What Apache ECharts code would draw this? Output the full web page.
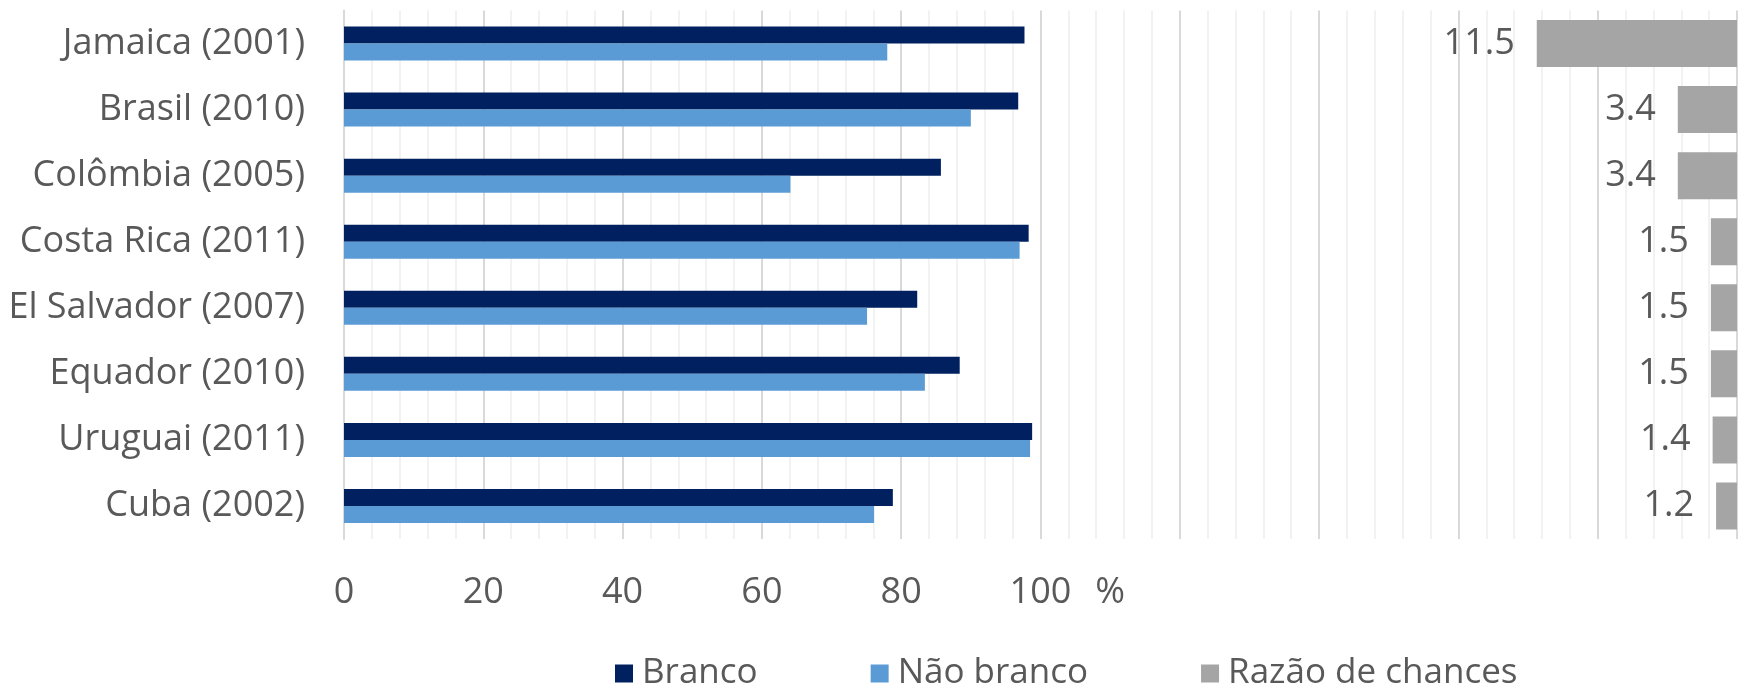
<!DOCTYPE html>
<html>
<head>
<meta charset="utf-8">
<style>
  html, body { margin: 0; padding: 0; background: #ffffff; }
  #chart { width: 1746px; height: 685px; }
</style>
<script src="https://cdn.jsdelivr.net/npm/echarts@6/dist/echarts.min.js"></script>
</head>
<body>
<div id="chart"></div>
<script>
// Country (census year)
const categories = [
  'Jamaica (2001)', 'Brasil (2010)', 'Colômbia (2005)', 'Costa Rica (2011)',
  'El Salvador (2007)', 'Equador (2010)', 'Uruguai (2011)', 'Cuba (2002)'
];
// Percentages (%)
const branco = [97.7, 96.8, 85.7, 98.3, 82.3, 88.4, 98.8, 78.8];
const naoBranco = [78.0, 90.0, 64.1, 97.0, 75.1, 83.4, 98.5, 76.1];
// Odds ratio
const razao = [11.5, 3.4, 3.4, 1.5, 1.5, 1.5, 1.4, 1.2];
// Percentage axis tick labels shown (others left blank)
const pctTicks = [0, 20, 40, 60, 80, 100];
const unitLabel = '%';

const FONT = 'Open Sans';
const TEXT = '#595959';

const chart = echarts.init(document.getElementById('chart'), null, { renderer: 'canvas' });

const option = {
  animation: false,
  backgroundColor: '#ffffff',
  textStyle: { fontFamily: FONT, color: TEXT },
  grid: { left: 344, right: 9, top: 10.5, bottom: 146, containLabel: false },
  legend: {
    left: 610,
    top: 651,
    icon: 'rect',
    itemWidth: 18,
    itemHeight: 18,
    itemGap: 113,
    textStyle: { fontFamily: FONT, fontSize: 35, color: TEXT, padding: [0, 0, 0, 4] },
    data: ['Branco', 'Não branco', 'Razão de chances']
  },
  xAxis: [
    {
      type: 'value',
      min: 0,
      max: 200,
      interval: 20,
      axisLine: { show: false },
      axisTick: { show: false },
      axisLabel: {
        fontFamily: FONT,
        fontSize: 36,
        color: TEXT,
        margin: 36,
        formatter: v => (pctTicks.indexOf(v) >= 0 ? String(v) : '')
      },
      splitLine: { show: true, lineStyle: { color: '#d9d9d9', width: 2 } },
      minorTick: { show: false, splitNumber: 5 },
      minorSplitLine: { show: true, lineStyle: { color: '#f2f2f2', width: 2 } }
    },
    {
      type: 'value',
      min: 0,
      max: 80,
      inverse: true,
      show: false,
      splitLine: { show: false }
    }
  ],
  yAxis: [
    {
      type: 'category',
      inverse: true,
      data: categories,
      axisLine: { show: true, lineStyle: { color: '#d9d9d9', width: 2 } },
      axisTick: { show: false },
      axisLabel: { fontFamily: FONT, fontSize: 36, color: TEXT, margin: 39 },
      splitLine: { show: false }
    },
    {
      type: 'category',
      inverse: true,
      data: categories,
      show: false
    }
  ],
  series: [
    {
      name: 'Branco',
      type: 'bar',
      xAxisIndex: 0,
      yAxisIndex: 0,
      data: branco,
      barWidth: 17,
      barGap: '0%',
      itemStyle: { color: '#002060' }
    },
    {
      name: 'Não branco',
      type: 'bar',
      xAxisIndex: 0,
      yAxisIndex: 0,
      data: naoBranco,
      barWidth: 17,
      barGap: '0%',
      itemStyle: { color: '#5b9bd5' }
    },
    {
      name: 'Razão de chances',
      type: 'bar',
      xAxisIndex: 1,
      yAxisIndex: 1,
      data: razao,
      barWidth: 47,
      itemStyle: { color: '#a5a5a5' },
      label: {
        show: true,
        position: 'left',
        distance: 22,
        fontFamily: FONT,
        fontSize: 36,
        color: TEXT,
        formatter: p => p.value.toFixed(1)
      }
    }
  ]
};

chart.setOption(option);

// Unit marker placed just after the last shown percentage tick
const unitX = chart.convertToPixel({ xAxisIndex: 0 }, 110);
chart.setOption({
  graphic: [{
    type: 'text',
    x: unitX,
    y: 593,
    style: {
      text: unitLabel,
      fontFamily: FONT,
      fontSize: 36,
      fill: TEXT,
      align: 'center',
      verticalAlign: 'middle'
    }
  }]
});
</script>
</body>
</html>
